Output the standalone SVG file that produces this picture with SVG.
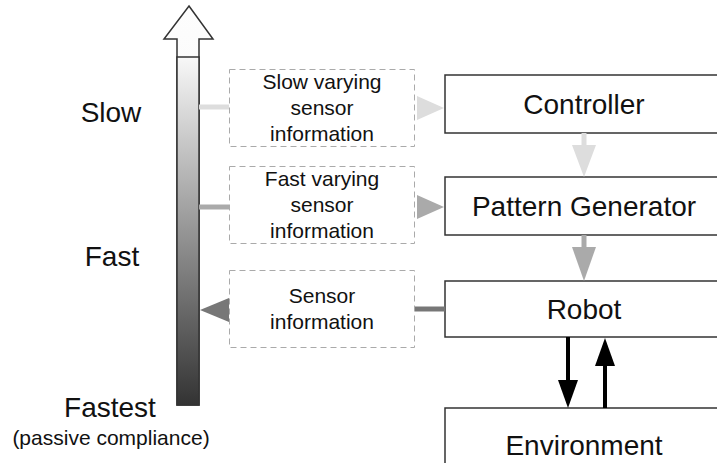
<svg xmlns="http://www.w3.org/2000/svg" width="717" height="463" viewBox="0 0 717 463">
<style>
  text { font-family: "Liberation Sans", Arial, sans-serif; fill: #111; text-anchor: middle; }
  .big { font-size: 28px; }
  .lbl { font-size: 28px; }
  .small { font-size: 21px; }
  .node { fill: #fff; stroke: #333; stroke-width: 1.5; }
  .dash { fill: #fff; stroke: #aaa; stroke-width: 1; stroke-dasharray: 6 4; }
</style>
<defs>
  <linearGradient id="bar" x1="0" y1="0" x2="0" y2="1">
    <stop offset="0" stop-color="#f8f8f8"/>
    <stop offset="1" stop-color="#333"/>
  </linearGradient>
  <linearGradient id="head" x1="0" y1="0" x2="0" y2="1">
    <stop offset="0" stop-color="#fdfdfd"/>
    <stop offset="1" stop-color="#efefef"/>
  </linearGradient>
</defs>

<g id="scale">
  <path d="M189,6 L213,39 L199,39 L199,405 L177,405 L177,39 L164,39 Z" fill="url(#head)" stroke="#333" stroke-width="1.5" stroke-linejoin="miter"/>
  <rect x="177" y="57" width="22" height="348" fill="url(#bar)" stroke="#333" stroke-width="1.5"/>
  <text class="lbl" x="111" y="122">Slow</text>
  <text class="lbl" x="112" y="266">Fast</text>
  <text class="lbl" x="110" y="417">Fastest</text>
  <text class="small" x="111" y="445">(passive compliance)</text>
</g>

<g id="slowInfo">
  <rect class="dash" x="229.5" y="69.5" width="185" height="77"/>
  <text class="small" x="322" y="89">Slow varying</text>
  <text class="small" x="322" y="115">sensor</text>
  <text class="small" x="322" y="141">information</text>
</g>
<g id="fastInfo">
  <rect class="dash" x="229.5" y="166.5" width="185" height="77"/>
  <text class="small" x="322" y="186">Fast varying</text>
  <text class="small" x="322" y="212">sensor</text>
  <text class="small" x="322" y="238">information</text>
</g>
<g id="sensorInfo">
  <rect class="dash" x="229.5" y="270.5" width="185" height="77"/>
  <text class="small" x="322" y="303">Sensor</text>
  <text class="small" x="322" y="329">information</text>
</g>

<g id="controller">
  <rect class="node" x="445" y="75" width="290" height="58"/>
  <text class="big" x="584" y="114">Controller</text>
</g>
<g id="patternGenerator">
  <rect class="node" x="445" y="177" width="290" height="58"/>
  <text class="big" x="584" y="216">Pattern Generator</text>
</g>
<g id="robot">
  <rect class="node" x="445" y="281" width="290" height="56"/>
  <text class="big" x="584" y="319">Robot</text>
</g>
<g id="environment">
  <rect class="node" x="445" y="408" width="290" height="70"/>
  <text class="big" x="584" y="455">Environment</text>
</g>

<g id="connectors">
  <line x1="199" y1="107" x2="229" y2="107" stroke="#ddd" stroke-width="5"/>
  <polygon points="417,96 444,108 417,120" fill="#ddd"/>
  <line x1="199" y1="207" x2="229" y2="207" stroke="#aaa" stroke-width="5"/>
  <polygon points="417,195 444,207 417,219" fill="#aaa"/>
  <line x1="415" y1="309" x2="445" y2="309" stroke="#777" stroke-width="5"/>
  <polygon points="229,298 200,310 229,322" fill="#777"/>
  <line x1="584" y1="133" x2="584" y2="147" stroke="#ddd" stroke-width="5"/>
  <polygon points="572,145 596,145 584,177" fill="#ddd"/>
  <line x1="584" y1="235" x2="584" y2="249" stroke="#aaa" stroke-width="5"/>
  <polygon points="572,247 596,247 584,281" fill="#aaa"/>
  <line x1="568" y1="337" x2="568" y2="382" stroke="#000" stroke-width="4"/>
  <polygon points="558,380 578,380 568,408" fill="#000"/>
  <line x1="605" y1="408" x2="605" y2="363" stroke="#000" stroke-width="4"/>
  <polygon points="595,366 615,366 605,338" fill="#000"/>
</g>
</svg>
